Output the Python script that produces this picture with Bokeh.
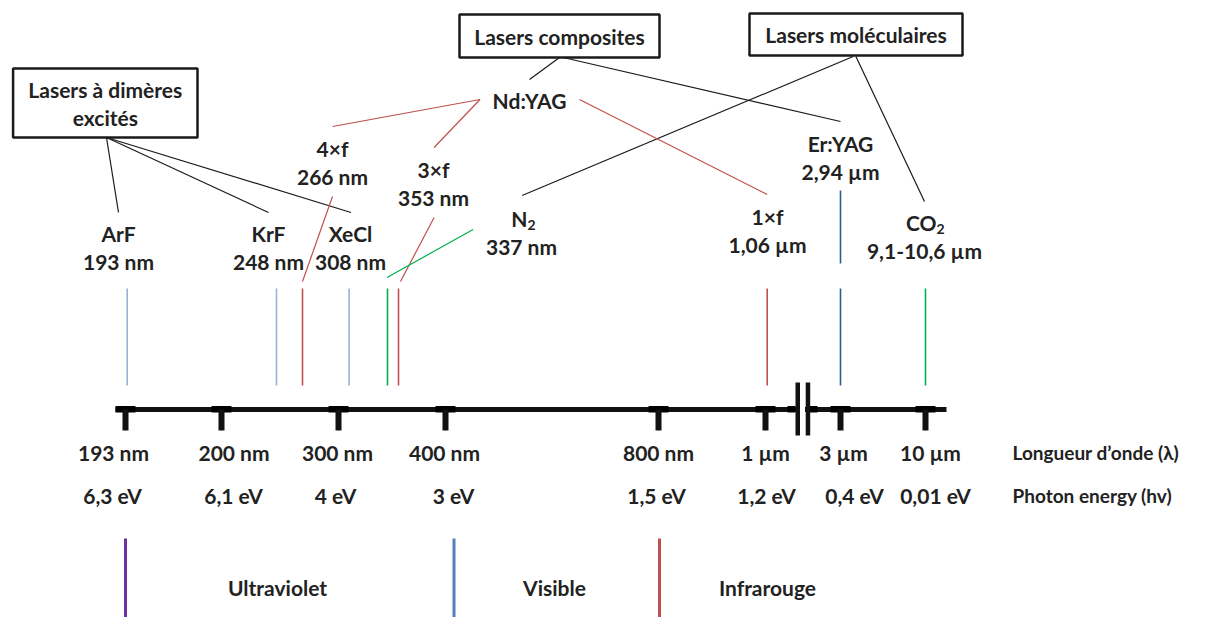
import numpy as np
from bokeh.plotting import figure
from bokeh.models import Range1d
from bokeh.core.properties import value
from bokeh.embed import file_html
from bokeh.resources import INLINE

# ---------------- data ----------------
# wavelength axis (schematic, non-linear, with a break between 1 µm and 3 µm)
tick_labels = ["193 nm", "200 nm", "300 nm", "400 nm", "800 nm", "1 µm", "3 µm", "10 µm"]
energy_labels = ["6,3 eV", "6,1 eV", "4 eV", "3 eV", "1,5 eV", "1,2 eV", "0,4 eV", "0,01 eV"]
tick_pos = [125, 221, 338, 445, 658, 765, 840, 925]
wl_label_pos = [113, 233.5, 337, 444, 658, 765, 843, 930]
ev_label_pos = [112, 233, 335, 453, 656, 766, 854, 935]
axis_titles = ["Longueur d’onde (λ)", "Photon energy (hv)"]

# lasers
laser_names = ["ArF", "KrF", "XeCl", "4×f", "3×f", "N", "1×f", "Er:YAG", "CO"]
laser_sub = ["", "", "", "", "", "2", "", "", "2"]
laser_wl = ["193 nm", "248 nm", "308 nm", "266 nm", "353 nm", "337 nm", "1,06 µm", "2,94 µm", "9,1-10,6 µm"]
laser_line_pos = [126.7, 276, 348.6, 302, 398, 387, 766.7, 840, 925]
laser_label_x = [118, 268, 350, 332, 433, 521, 767, 840, 924]
laser_label_y = [233, 233, 233, 148, 169, 218, 216, 143, 222]
laser_family = ["dimer", "dimer", "dimer", "nd", "nd", "mol", "nd", "er", "mol"]
family_color = {"dimer": "#95b3d7", "nd": "#c0504d", "mol": "#00b050", "er": "#2e5b9a"}

# category boxes
box_text = ["Lasers à dimères", "excités", "Lasers composites", "Lasers moléculaires"]
box_left = [12.6, 459, 749]
box_right = [197, 659, 962]
box_top = [68, 14, 13]
box_bottom = [137, 57, 55]

# connector lines (from -> to)
black_x0 = [106, 106, 106, 559, 562.6, 852.7, 855.4]
black_y0 = [137, 137, 137, 57, 57, 56, 56]
black_x1 = [118, 268, 350.5, 529, 840, 521.6, 924]
black_y1 = [212, 212, 212, 79, 121, 195, 201]
red_x0 = [479.5, 479.5, 579, 332, 433.6]
red_y0 = [99, 99, 99, 196, 217]
red_x1 = [332, 433.6, 766.7, 302, 400]
red_y1 = [126, 147, 194, 281, 281]
green_x0 = [472.6]
green_y0 = [229]
green_x1 = [386.5]
green_y1 = [277]

# spectral regions
region_names = ["Ultraviolet", "Visible", "Infrarouge"]
region_start = [125, 453.5, 659]
region_label_x = [277, 554, 767]
region_colors = ["#7030a0", "#4f81bd", "#c0504d"]

# ---------------- figure ----------------
W, H = 1189, 617
p = figure(width=W, height=H, x_range=Range1d(0, W), y_range=Range1d(H, 0),
           output_backend="svg", toolbar_location=None, min_border=0)
p.axis.visible = False
p.grid.visible = False
p.outline_line_color = None
p.background_fill_color = "white"

FONT = value("Lato")
FS = "21px"
INK = "#222222"

def txt(x, y, t, size=FS, align="center"):
    p.text(x=x, y=y, text=t, text_font=FONT, text_font_size=size, text_font_style="bold",
           text_align=align, text_baseline="middle", text_color=INK)

# boxes
p.quad(left=box_left, right=box_right, top=box_top, bottom=box_bottom,
       fill_color="white", line_color="#1a1a1a", line_width=2.5)
cx = [(l + r) / 2 for l, r in zip(box_left, box_right)]
txt([cx[0], cx[0], cx[1], cx[2]], [89, 117, 36, 34], box_text)

# connectors
p.segment(x0=black_x0, y0=black_y0, x1=black_x1, y1=black_y1, line_color="#1a1a1a", line_width=1.2)
p.segment(x0=red_x0, y0=red_y0, x1=red_x1, y1=red_y1, line_color="#c0504d", line_width=1.2)
p.segment(x0=green_x0, y0=green_y0, x1=green_x1, y1=green_y1, line_color="#00b050", line_width=1.2)

# Nd:YAG label
txt([529], [100], ["Nd:YAG"])

# laser labels and lines
sub_split = {"N": 6, "CO": 12}
for name, sub, wl, lx, ly, xpos, fam in zip(laser_names, laser_sub, laser_wl, laser_label_x,
                                           laser_label_y, laser_line_pos, laser_family):
    if sub:
        xs = lx + sub_split[name]
        txt([xs], [ly], [name], align="right")
        p.text(x=[xs], y=[ly + 6], text=[sub], text_font=FONT, text_font_size="14px",
               text_font_style="bold", text_align="left", text_baseline="middle", text_color=INK)
    else:
        txt([lx], [ly], [name])
    txt([lx], [ly + 28], [wl])
    p.segment(x0=[xpos], y0=[288], x1=[xpos], y1=[385], line_color=family_color[fam], line_width=1.6)
    if fam == "er":
        p.segment(x0=[xpos], y0=[190], x1=[xpos], y1=[263], line_color=family_color[fam], line_width=1.6)

# main axis
p.segment(x0=[115], y0=[409], x1=[946], y1=[409], line_color="#111111", line_width=5)
p.quad(left=[t - 10 for t in tick_pos], right=[t + 10 for t in tick_pos],
       top=[405.5] * len(tick_pos), bottom=[412] * len(tick_pos), fill_color="#000000", line_color=None)
p.quad(left=[t - 3 for t in tick_pos], right=[t + 3 for t in tick_pos],
       top=[409] * len(tick_pos), bottom=[430] * len(tick_pos), fill_color="#111111", line_color=None)
# axis break
p.quad(left=[799.5], right=[804.5], top=[404], bottom=[414], fill_color="white", line_color=None)
p.quad(left=[787, 809], right=[795, 817], top=[405.5, 405.5], bottom=[412, 412],
       fill_color="#000000", line_color=None)
p.quad(left=[795, 805.2], right=[799.5, 809.7], top=[382, 382], bottom=[435, 435],
       fill_color="#111111", line_color=None)

# tick labels
txt(wl_label_pos, [452] * len(tick_labels), tick_labels)
txt(ev_label_pos, [495] * len(energy_labels), energy_labels)
txt([1012, 1012], [452, 495], axis_titles, size="19px", align="left")

# spectral regions
p.segment(x0=region_start, y0=[538] * 3, x1=region_start, y1=[640] * 3,
          line_color=region_colors, line_width=3)
txt(region_label_x, [587] * 3, region_names)

open("out.html", "w").write(file_html(p, INLINE))
